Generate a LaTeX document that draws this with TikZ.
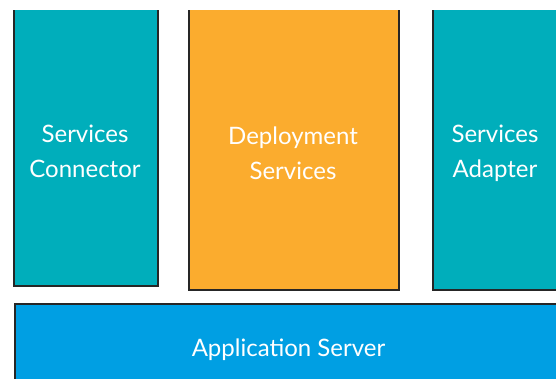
\documentclass[tikz,border=0pt]{standalone}
\usepackage{fontspec}
\setmainfont{Lato}
\definecolor{tealbox}{RGB}{0,174,187}
\definecolor{orangebox}{RGB}{251,172,46}
\definecolor{bluebox}{RGB}{0,159,227}
\tikzset{
  blockbox/.style={draw=black!85, line width=1.6pt, rectangle, inner sep=0pt, anchor=north west},
  blocktext/.style={text=white, font=\fontsize{24}{35}\selectfont, align=center, inner sep=0pt}
}
\begin{document}
\begin{tikzpicture}[x=1pt,y=-1pt]
\useasboundingbox (0,0) rectangle (556,379);
\begin{scope}
\clip (0,11) rectangle (556,379);
\node[blockbox, fill=tealbox, minimum width=144pt, minimum height=280pt] (conn) at (13,5) {};
\node[blockbox, fill=orangebox, minimum width=210pt, minimum height=284pt] (depl) at (188,5) {};
\node[blockbox, fill=tealbox, minimum width=132pt, minimum height=284pt] (adap) at (432,5) {};
\end{scope}
\begin{scope}
\clip (0,0) rectangle (556,379);
\node[blockbox, fill=bluebox, minimum width=560pt, minimum height=100pt] (apps) at (14,303) {};
\end{scope}
\node[blocktext] (connt) at (85,151) {Services\\Connector};
\node[blocktext] (deplt) at (293,153) {Deployment\\Services};
\node[blocktext] (adapt) at (495,153) {Services\\Adapter};
\node[blocktext, anchor=base] (appst) at (288.5,356) {Application Server};
\end{tikzpicture}
\end{document}
